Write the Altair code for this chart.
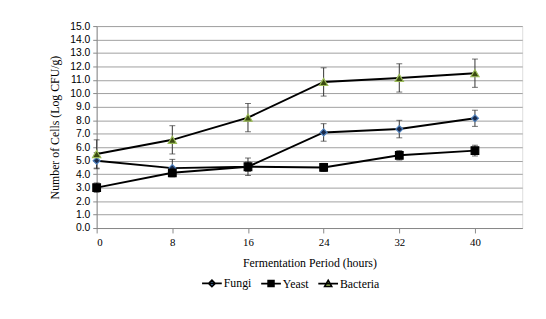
import altair as alt
import pandas as pd

hours = [0, 8, 16, 24, 32, 40]
series_names = ["Fungi", "Yeast", "Bacteria"]
fungi = [5.0, 4.45, 4.55, 7.1, 7.35, 8.15]
fungi_err = [0.6, 0.65, 0.65, 0.65, 0.65, 0.6]
yeast = [3.0, 4.1, 4.55, 4.5, 5.4, 5.75]
yeast_err = [0.35, 0.2, 0.35, 0.3, 0.35, 0.4]
bacteria = [5.5, 6.55, 8.2, 10.85, 11.15, 11.5]
bacteria_err = [1.05, 1.05, 1.05, 1.05, 1.05, 1.05]
y_ticks = [i * 1.0 for i in range(16)]
x_ticks = [0, 8, 16, 24, 32, 40]

rows = []
for name, vals, errs in [("Fungi", fungi, fungi_err), ("Yeast", yeast, yeast_err), ("Bacteria", bacteria, bacteria_err)]:
    for h, v, e in zip(hours, vals, errs):
        rows.append({"series": name, "hours": h, "value": v, "lo": v - e, "hi": v + e})
df = pd.DataFrame(rows)

serif = "Liberation Serif"
x_axis = alt.Axis(values=x_ticks, title="Fermentation Period (hours)", grid=False,
                  labelFont=serif, labelFontSize=11, titleFont=serif, titleFontSize=12,
                  titleFontWeight="normal", domainColor="#888", tickColor="#888",
                  tickSize=5, labelPadding=4, titlePadding=10, labelColor="black", titleColor="black")
y_axis = alt.Axis(values=y_ticks, format=".1f", title="Number of Cells (Log CFU/g)",
                  labelFont="Liberation Sans", labelFontSize=10.5, titleFont=serif, titleFontSize=12,
                  titleFontWeight="normal", gridColor="#a0a0a0", gridWidth=1, domainColor="#888",
                  tickColor="#888", tickSize=4, labelPadding=3, titlePadding=8,
                  labelColor="black", titleColor="black")
x_scale = alt.Scale(domain=[0, 45], nice=False)
y_scale = alt.Scale(domain=[0, 15], nice=False)

def X():
    return alt.X("hours:Q", scale=x_scale, axis=x_axis)

def Y(field):
    return alt.Y(field + ":Q", scale=y_scale, axis=y_axis)

base = alt.Chart(df)

lines = base.mark_line(color="black", strokeWidth=2).encode(
    x=X(), y=Y("value"), detail="series:N")

err_rule = base.mark_rule(color="#333", strokeWidth=1).encode(
    x=X(), y=Y("lo"), y2="hi:Q")
cap_lo = base.mark_tick(color="#333", orient="horizontal", size=6, thickness=1).encode(
    x=X(), y=Y("lo"))
cap_hi = base.mark_tick(color="#333", orient="horizontal", size=6, thickness=1).encode(
    x=X(), y=Y("hi"))

points = base.mark_point(filled=True, strokeWidth=1.2, opacity=1).encode(
    x=X(), y=Y("value"),
    size=alt.Size("series:N", scale=alt.Scale(domain=series_names, range=[50, 70, 60]), legend=None),
    shape=alt.Shape("series:N", scale=alt.Scale(domain=series_names, range=["diamond", "square", "triangle-up"]), legend=None),
    fill=alt.Fill("series:N", scale=alt.Scale(domain=series_names, range=["#1a2a4a", "#000000", "#3a4a10"]), legend=None),
    stroke=alt.Stroke("series:N", scale=alt.Scale(domain=series_names, range=["#4f81bd", "#000000", "#9bbb59"]), legend=None),
)

legend_paths = [
    "M-1,0H1M0,-0.34L0.34,0L0,0.34L-0.34,0Z",
    "M-1,0H1M-0.3,-0.3H0.3V0.3H-0.3Z",
    "M-1,0H1M0,-0.34L0.36,0.3H-0.36Z",
]
legend_layer = alt.Chart(df).transform_filter("datum.value < -100").mark_point(
    filled=True, strokeWidth=1.6, opacity=1, size=400).encode(
    shape=alt.Shape("series:N", scale=alt.Scale(domain=series_names, range=legend_paths),
                    legend=alt.Legend(title=None, orient="none", legendX=106, legendY=250,
                                      direction="horizontal", columns=3, symbolSize=400,
                                      symbolStrokeWidth=1.6,
                                      labelFont=serif, labelFontSize=12, labelColor="black",
                                      columnPadding=5, labelOffset=1, symbolOpacity=1)),
    fill=alt.Fill("series:N", scale=alt.Scale(domain=series_names, range=["#4f81bd", "#000000", "#9bbb59"]), legend=None),
    stroke=alt.Stroke("series:N", scale=alt.Scale(domain=series_names, range=["#000000", "#000000", "#000000"]), legend=None),
)

chart = alt.layer(err_rule, cap_lo, cap_hi, lines, points, legend_layer).resolve_scale(
    shape="independent", fill="independent", stroke="independent", size="independent"
).properties(
    width=432, height=205,
    autosize=alt.AutoSizeParams(type="none"),
    padding={"left": 90, "top": 16, "right": 16, "bottom": 90},
).configure_view(stroke=None).configure(background="white").configure_axis(
    titleFont=serif, titleFontWeight="normal"
).configure_legend(labelFont=serif)

chart.save("out.html", embed_options={"renderer": "svg", "actions": False})
